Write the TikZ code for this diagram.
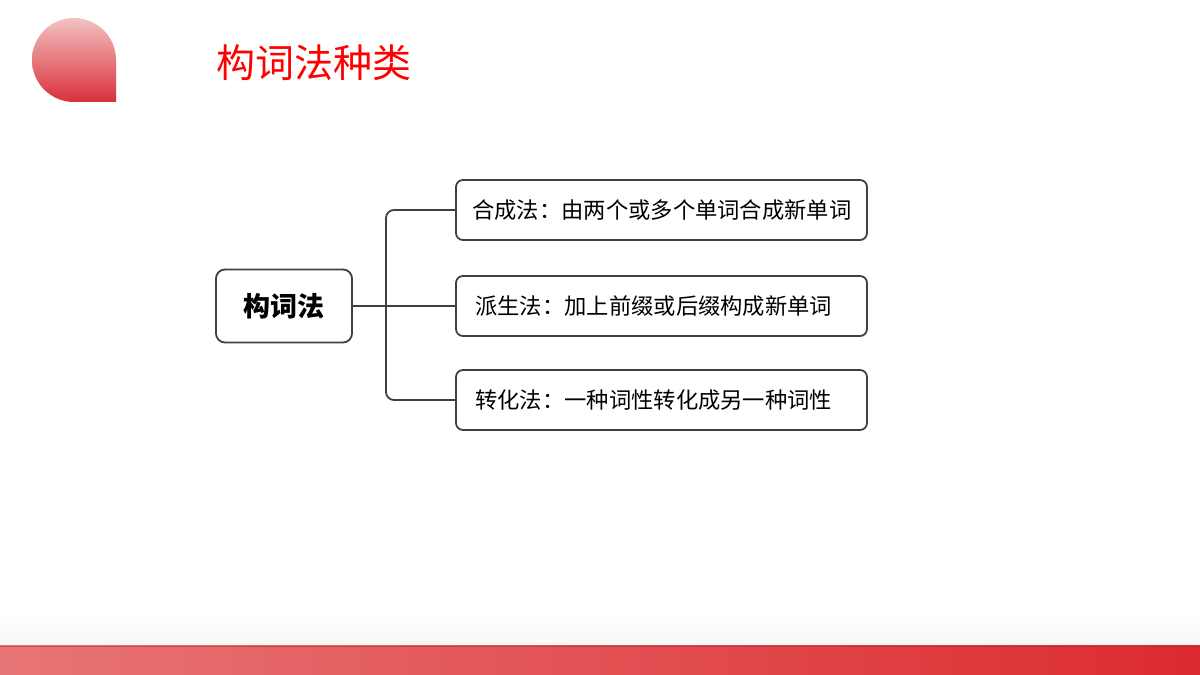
\documentclass[tikz,border=0pt]{standalone}
\usepackage{fontspec}
\newfontfamily\cjk{Noto Sans CJK SC}
\usetikzlibrary{positioning}
\definecolor{linegray}{HTML}{404040}
\definecolor{titlered}{HTML}{FF0000}
\definecolor{droptop}{HTML}{F3C2C2}
\definecolor{dropbot}{HTML}{D8303A}
\definecolor{barleft}{HTML}{E87676}
\definecolor{barright}{HTML}{DC2B30}
\definecolor{fadegray}{HTML}{F6F8F5}
\newcommand{\fwcolonmark}{\makebox[1em][c]{：}}
\tikzset{
  leafbox/.style={draw=linegray, line width=1.8pt, rounded corners=7pt, minimum width=411pt, minimum height=60pt},
  rootbox/.style={draw=linegray, line width=1.8pt, rounded corners=9pt, minimum width=136pt, minimum height=73pt, font=\cjk\bfseries\fontsize{27}{27}\selectfont},
  leaftext/.style={font=\cjk\fontsize{22.3}{23}\selectfont, anchor=west, inner sep=0pt},
  conn/.style={draw=linegray, line width=1.8pt, rounded corners=8pt}
}
\begin{document}
\begin{tikzpicture}[x=1pt,y=1pt]
\useasboundingbox (0,0) rectangle (1200,675);
\fill[white] (0,0) rectangle (1200,675);
% bottom fade and bar
\shade[top color=white, bottom color=fadegray] (0,29) rectangle (1200,66);
\shade[left color=barleft, right color=barright] (0,0) rectangle (1200,29);
\draw[draw=barright!80!black, opacity=0.5, line width=0.8pt] (0,29) -- (1200,29);
% drop
\shade[top color=droptop, bottom color=dropbot] (116,573) -- (116,615) arc[start angle=0, end angle=270, radius=42] -- cycle;
% title
\node[anchor=west, inner sep=0pt, text=titlered, font=\cjk\fontsize{39}{39}\selectfont] (title) at (216,612) {构词法种类};
% root
\node[rootbox] (root) at (284,369) {构词法};
% leaves
\node[leafbox] (b1) at (661.5,465) {};
\node[leafbox] (b2) at (661.5,369) {};
\node[leafbox] (b3) at (661.5,275) {};
\node[leaftext] (t1) at ([xshift=17pt]b1.west) {合成法\fwcolonmark 由两个或多个单词合成新单词};
\node[leaftext] (t2) at ([xshift=20pt]b2.west) {派生法\fwcolonmark 加上前缀或后缀构成新单词};
\node[leaftext] (t3) at ([xshift=20pt]b3.west) {转化法\fwcolonmark 一种词性转化成另一种词性};
% connectors
\coordinate (jn) at (386,369);
\draw[conn] (root.east) -- (b2.west);
\draw[conn] (jn) |- (b1.west);
\draw[conn] (jn) |- (b3.west);
\end{tikzpicture}
\end{document}
